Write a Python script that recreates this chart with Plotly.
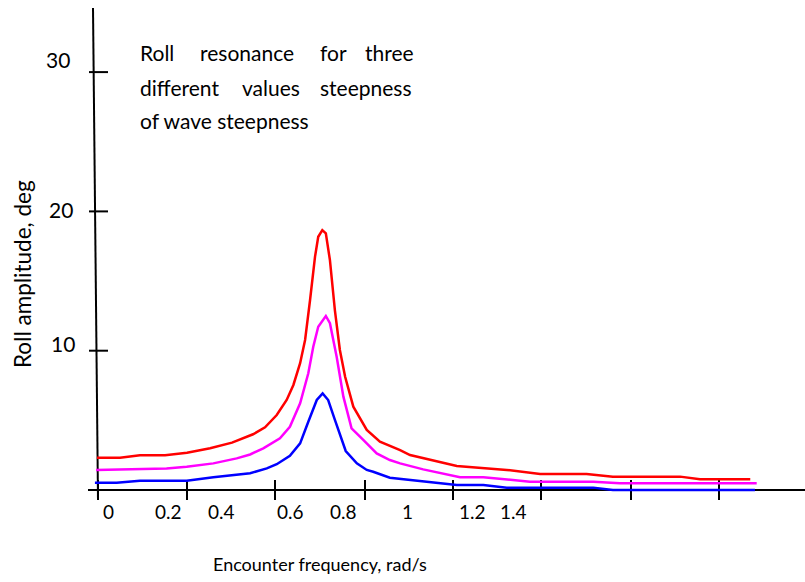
import plotly.graph_objects as go

# ---------------- data ----------------
freq_red = [-0.048, 0.031, 0.099, 0.185, 0.26, 0.339, 0.414, 0.486, 0.527, 0.567, 0.601,
            0.624, 0.647, 0.664, 0.681, 0.698, 0.709, 0.723, 0.735, 0.749, 0.766, 0.783,
            0.801, 0.829, 0.875, 0.92, 0.989, 1.023, 1.183, 1.354, 1.468, 1.627, 1.717,
            1.947, 2.015, 2.187]
amp_red = [2.32, 2.32, 2.5, 2.5, 2.68, 3.0, 3.4, 4.0, 4.5, 5.38, 6.46,
           7.54, 9.1, 10.77, 13.64, 16.75, 18.18, 18.66, 18.43, 16.5, 12.9, 10.05,
           8.13, 5.98, 4.31, 3.47, 2.87, 2.51, 1.72, 1.44, 1.15, 1.15, 0.96,
           0.96, 0.77, 0.77]

freq_magenta = [-0.051, 0.031, 0.099, 0.19, 0.259, 0.35, 0.43, 0.476, 0.521, 0.578, 0.612,
                0.647, 0.675, 0.692, 0.709, 0.735, 0.749, 0.772, 0.795, 0.823, 0.863,
                0.909, 0.954, 0.989, 1.068, 1.194, 1.274, 1.433, 1.65, 1.741, 2.209]
amp_magenta = [1.44, 1.48, 1.55, 1.55, 1.67, 1.91, 2.27, 2.55, 2.99, 3.71, 4.54,
               6.22, 8.38, 10.29, 11.72, 12.49, 11.97, 9.57, 6.7, 4.43, 3.59,
               2.63, 2.15, 1.91, 1.48, 0.91, 0.91, 0.6, 0.6, 0.48, 0.48]

freq_blue = [-0.055, 0.0195, 0.099, 0.259, 0.35, 0.476, 0.533, 0.567, 0.612, 0.647, 0.675,
             0.704, 0.724, 0.743, 0.766, 0.783, 0.803, 0.841, 0.875, 0.897, 0.954, 1.08,
             1.183, 1.274, 1.354, 1.65, 1.717, 2.203]
amp_blue = [0.52, 0.52, 0.67, 0.67, 0.91, 1.2, 1.55, 1.85, 2.45, 3.35, 4.9,
            6.46, 6.94, 6.46, 5.03, 4.07, 2.8, 1.91, 1.44, 1.31, 0.88, 0.6,
            0.36, 0.36, 0.17, 0.17, 0.0, 0.0]

x_tick_labels = ["0", "0.2", "0.4", "0.6", "0.8", "1", "1.2", "1.4"]
y_tick_labels = ["30", "20", "10"]
y_tick_values = [30, 20, 10]

title_lines = [["Roll", "resonance", "for", "three"],
               ["different", "values", "steepness"],
               ["of wave steepness"]]

# ---------------- layout helpers (pixel geometry of the drawing) ----------------
W, H = 805, 582
X0, SX = 111.0, 292.3      # pixel of freq 0, pixels per rad/s
Y0, SY = 490.0, 13.93      # pixel of 0 deg, pixels per deg


def dx(px):
    return (px - X0) / SX


def dy(py):
    return (Y0 - py) / SY


FONT = "Lato"
BLACK = "#000000"

fig = go.Figure()
for f, a, c in [(freq_red, amp_red, "#FF0000"),
                (freq_magenta, amp_magenta, "#FF00FF"),
                (freq_blue, amp_blue, "#0000FF")]:
    fig.add_trace(go.Scatter(x=f, y=a, mode="lines",
                             line=dict(color=c, width=2.5), hoverinfo="skip"))

shapes = []
# x axis line
shapes.append(dict(type="line", x0=dx(88), x1=dx(805), y0=0, y1=0,
                   line=dict(color=BLACK, width=2), layer="below"))
# slanted y axis line
shapes.append(dict(type="line", x0=dx(93), x1=dx(98), y0=dy(8), y1=dy(500),
                   line=dict(color=BLACK, width=2), layer="below"))
# y tick marks crossing the axis
for v in y_tick_values:
    shapes.append(dict(type="line", x0=dx(89), x1=dx(108), y0=v, y1=v,
                       line=dict(color=BLACK, width=2), layer="below"))
# x tick marks crossing the axis
for px in [98, 187, 275, 365, 453, 541, 631, 719]:
    shapes.append(dict(type="line", x0=dx(px), x1=dx(px), y0=dy(480), y1=dy(500),
                       line=dict(color=BLACK, width=2), layer="below"))

ann = []
# x tick labels
for lab, px in zip(x_tick_labels, [108, 168, 221, 290, 343, 407, 472, 513]):
    ann.append(dict(x=dx(px), y=dy(511), text=lab, showarrow=False,
                    xanchor="center", yanchor="middle",
                    font=dict(family=FONT, size=19, color=BLACK)))
# y tick labels
for lab, (px, py) in zip(y_tick_labels, [(72, 59), (75, 209), (77, 343)]):
    ann.append(dict(x=dx(px), y=dy(py), text=lab, showarrow=False,
                    xanchor="right", yanchor="middle",
                    font=dict(family=FONT, size=21, color=BLACK)))
# axis titles
ann.append(dict(x=dx(22), y=dy(274), text="Roll amplitude, deg", textangle=-90,
                showarrow=False, xanchor="center", yanchor="middle",
                font=dict(family=FONT, size=22.5, color=BLACK)))
ann.append(dict(x=dx(320), y=dy(564), text="Encounter frequency, rad/s",
                showarrow=False, xanchor="center", yanchor="middle",
                font=dict(family=FONT, size=18, color=BLACK)))
# justified text block, word by word
word_x = [[138, 198, 318, 363], [138, 240, 318], [138]]
line_y = [52, 87, 120]
for words, xs, py in zip(title_lines, word_x, line_y):
    for w, px in zip(words, xs):
        ann.append(dict(x=dx(px), y=dy(py), text=w, showarrow=False,
                        xanchor="left", yanchor="middle",
                        font=dict(family=FONT, size=21, color=BLACK)))

fig.update_layout(
    width=W, height=H,
    margin=dict(l=0, r=0, t=0, b=0),
    paper_bgcolor="white", plot_bgcolor="white",
    showlegend=False,
    xaxis=dict(range=[dx(0), dx(W)], visible=False, fixedrange=True),
    yaxis=dict(range=[dy(H), dy(0)], visible=False, fixedrange=True),
    shapes=shapes, annotations=ann,
)

fig.write_html("out.html")
